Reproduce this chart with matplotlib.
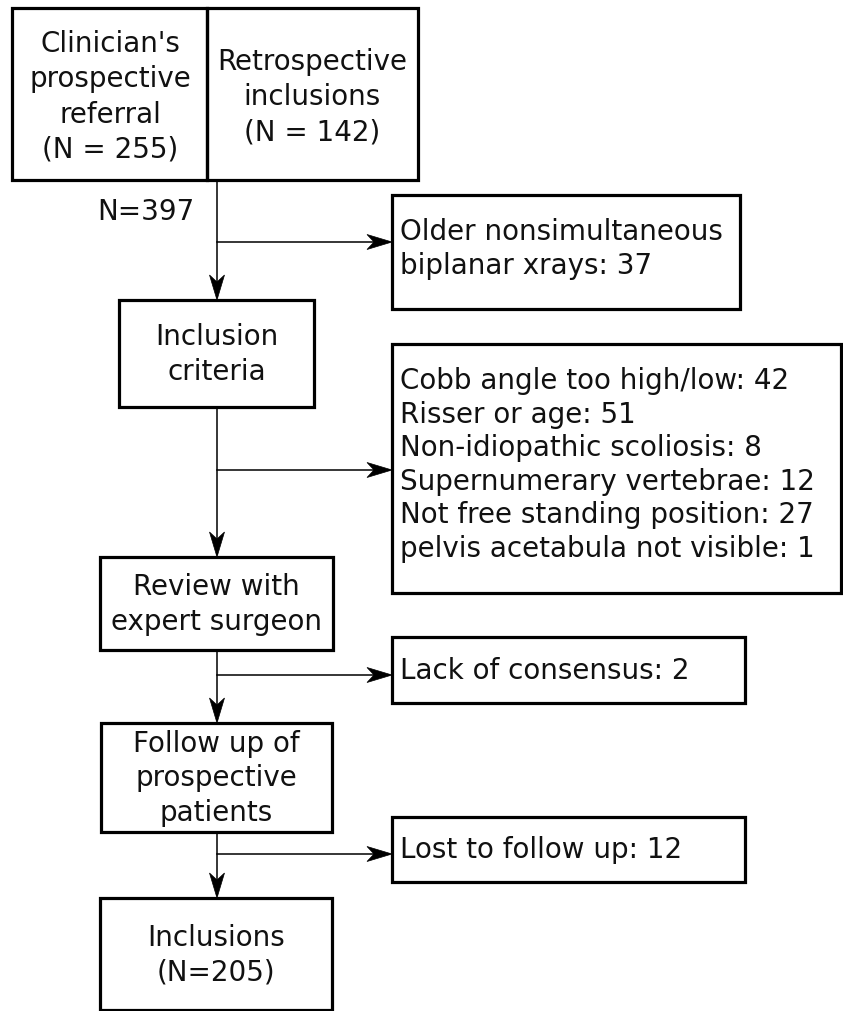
import matplotlib
matplotlib.use("Agg")
import matplotlib.pyplot as plt
from matplotlib.patches import Rectangle, Polygon

plt.rcParams['font.family'] = ['DejaVu Sans']

# ---- content ----
source_labels = ["Clinician's\nprospective\nreferral\n(N = 255)",
                 "Retrospective\ninclusions\n(N = 142)"]
total_label = "N=397"
main_steps = ["Inclusion\ncriteria", "Review with\nexpert surgeon",
              "Follow up of\nprospective\npatients", "Inclusions\n(N=205)"]
excl_first = ("Older nonsimultaneous\nbiplanar xrays", 37)
criteria_reasons = ["Cobb angle too high/low", "Risser or age",
                    "Non-idiopathic scoliosis", "Supernumerary vertebrae",
                    "Not free standing position", "pelvis acetabula not visible"]
criteria_counts = [42, 51, 8, 12, 27, 1]
excl_later = [("Lack of consensus", 2), ("Lost to follow up", 12)]

# ---- layout (pixels) ----
W, H = 843, 1011
fig = plt.figure(figsize=(W / 100, H / 100), dpi=100)
ax = fig.add_axes([0, 0, 1, 1])
ax.set_xlim(0, W)
ax.set_ylim(H, 0)
ax.axis('off')

FS = 20
LS = 1.28
BOX_LW = 2.3
LINE_LW = 1.1
spine_x = 217
TXT = '#111111'


def box(x0, y0, x1, y1):
    ax.add_patch(Rectangle((x0, y0), x1 - x0, y1 - y0, fill=False,
                           edgecolor='black', linewidth=BOX_LW, joinstyle='miter'))


def head(xt, yt, d):
    L, hw, notch = 25, 7.5, 7
    if d == 'down':
        pts = [(xt, yt), (xt - hw, yt - L), (xt, yt - L + notch), (xt + hw, yt - L)]
    else:
        pts = [(xt, yt), (xt - L, yt - hw), (xt - L + notch, yt), (xt - L, yt + hw)]
    ax.add_patch(Polygon(pts, closed=True, facecolor='black', edgecolor='black',
                         linewidth=0.5))


def hline_arrow(y, x_end):
    ax.plot([spine_x, x_end - 3], [y, y], color='black', lw=LINE_LW)
    head(x_end, y, 'right')


def vline_arrow(y0, y1):
    ax.plot([spine_x, spine_x], [y0, y1 - 3], color='black', lw=LINE_LW)
    head(spine_x, y1, 'down')


# top sources
box(12, 8, 207, 180)
box(207, 8, 418, 180)
ax.text(110, 97, source_labels[0], ha='center', va='center', fontsize=FS,
        linespacing=1.32, color=TXT)
ax.text(312, 97, source_labels[1], ha='center', va='center', fontsize=FS,
        linespacing=1.32, color=TXT)
ax.text(195, 212, total_label, ha='right', va='center', fontsize=FS, color=TXT)

# main steps
steps_boxes = [(119, 300, 314, 407), (100, 557, 333, 650),
               (101, 723, 332, 832), (100, 898, 332, 1010)]
tops = [180] + [b[3] for b in steps_boxes[:-1]]
for (x0, y0, x1, y1), label, ytop in zip(steps_boxes, main_steps, tops):
    box(x0, y0, x1, y1)
    ax.text((x0 + x1) / 2, (y0 + y1) / 2 + 1, label, ha='center', va='center',
            fontsize=FS, linespacing=LS, color=TXT)
    vline_arrow(ytop, y0)

# exclusion boxes
box(392, 195, 740, 309)
ax.text(400, 249, f"{excl_first[0]}: {excl_first[1]}", ha='left', va='center',
        fontsize=FS, linespacing=LS, color=TXT)
hline_arrow(242, 392)

box(392, 344, 841, 593)
crit_text = "\n".join(f"{r}: {c}" for r, c in zip(criteria_reasons, criteria_counts))
ax.text(400, 465, crit_text, ha='left', va='center', fontsize=FS,
        linespacing=1.25, color=TXT)
hline_arrow(470, 392)

later_boxes = [(392, 637, 745, 703), (392, 817, 745, 882)]
later_y = [675, 854]
for (x0, y0, x1, y1), (lab, n), ya in zip(later_boxes, excl_later, later_y):
    box(x0, y0, x1, y1)
    ax.text(400, (y0 + y1) / 2 + 1, f"{lab}: {n}", ha='left', va='center',
            fontsize=FS, color=TXT)
    hline_arrow(ya, x0)

fig.savefig("out.png", dpi=100, facecolor='white')
